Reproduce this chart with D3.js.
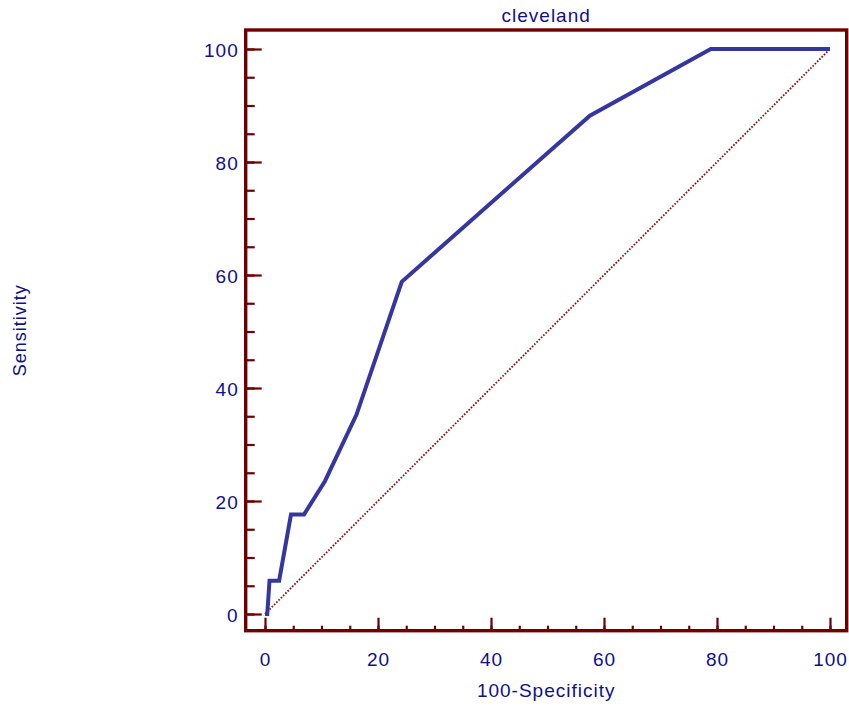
<!DOCTYPE html>
<html>
<head>
<meta charset="utf-8">
<script src="https://cdn.jsdelivr.net/npm/d3@7"></script>
<style>
  body { margin: 0; background: #fff; }
  text { font-family: "Liberation Sans", Arial, sans-serif; }
</style>
</head>
<body>
<div id="chart"></div>
<script>
var title = "cleveland";
var xLabel = "100-Specificity";
var yLabel = "Sensitivity";
// roc points
var specComp = [0, 0.4, 0.8, 2.5, 4.6, 6.9, 10.6, 16.2, 24.2, 57.5, 78.9, 100];
var sensitivity = [0, 0, 5.9, 5.9, 17.6, 17.6, 23.5, 35.3, 58.8, 88.2, 100, 100];
var majorTicks = [0, 20, 40, 60, 80, 100];
var minorTicks = d3.range(0, 101, 5);

var width = 849, height = 710;
var frame = {left: 245.7, top: 30, right: 846.7, bottom: 630.7};
var textColor = "#10108a", axisColor = "#6e0000";
var fontSize = "19px", spacing = "1px";

var svg = d3.select("#chart").append("svg")
    .attr("width", width).attr("height", height);

var x = d3.scaleLinear().domain([0, 100]).range([265, 830]);
var y = d3.scaleLinear().domain([0, 100]).range([614, 49]);

// bottom ticks, pointing inward
svg.append("g")
    .attr("transform", "translate(0," + frame.bottom + ")")
    .call(d3.axisBottom(x).tickValues(minorTicks).tickSize(-5).tickFormat(""))
    .call(function (g) { g.select(".domain").remove(); });
var xa = svg.append("g")
    .attr("transform", "translate(0," + frame.bottom + ")")
    .call(d3.axisBottom(x).tickValues(majorTicks).tickSize(-13));
xa.select(".domain").remove();
xa.selectAll("text")
    .attr("y", 35).attr("dy", null)
    .style("font-size", fontSize).style("letter-spacing", spacing)
    .attr("fill", textColor);

// left ticks
svg.append("g")
    .attr("transform", "translate(" + frame.left + ",0)")
    .call(d3.axisLeft(y).tickValues(minorTicks).tickSize(-9).tickFormat(""))
    .call(function (g) { g.select(".domain").remove(); });
var ya = svg.append("g")
    .attr("transform", "translate(" + frame.left + ",0)")
    .call(d3.axisLeft(y).tickValues(majorTicks).tickSize(-16));
ya.select(".domain").remove();
ya.selectAll("text")
    .attr("x", -7).attr("dy", "0.38em")
    .style("font-size", fontSize).style("letter-spacing", spacing)
    .attr("fill", textColor);

svg.selectAll(".tick line")
    .attr("stroke", axisColor).attr("stroke-width", 2.2);

// diagonal reference
svg.append("line")
    .attr("x1", x(0)).attr("y1", y(0))
    .attr("x2", x(100)).attr("y2", y(100))
    .attr("stroke", "#8b0a0a")
    .attr("stroke-width", 1.8)
    .attr("stroke-dasharray", "1.6,1.6");

var line = d3.line()
    .x(function (d, i) { return x(specComp[i]); })
    .y(function (d, i) { return y(sensitivity[i]); });

svg.append("path")
    .datum(sensitivity)
    .attr("d", line)
    .attr("fill", "none")
    .attr("stroke", "#3636a0")
    .attr("stroke-width", 4)
    .attr("stroke-linejoin", "miter");

svg.append("rect")
    .attr("x", frame.left).attr("y", frame.top)
    .attr("width", frame.right - frame.left)
    .attr("height", frame.bottom - frame.top)
    .attr("fill", "none")
    .attr("stroke", axisColor)
    .attr("stroke-width", 3.4);

svg.append("text")
    .attr("x", (frame.left + frame.right) / 2).attr("y", 22)
    .attr("text-anchor", "middle")
    .style("font-size", fontSize).style("letter-spacing", spacing)
    .attr("fill", textColor)
    .text(title);

svg.append("text")
    .attr("x", (frame.left + frame.right) / 2).attr("y", 697)
    .attr("text-anchor", "middle")
    .style("font-size", fontSize).style("letter-spacing", spacing)
    .attr("fill", textColor)
    .text(xLabel);

svg.append("text")
    .attr("transform", "translate(26," + ((frame.top + frame.bottom) / 2) + ") rotate(-90)")
    .attr("text-anchor", "middle")
    .style("font-size", "18px").style("letter-spacing", "1px")
    .attr("fill", textColor)
    .text(yLabel);
</script>
</body>
</html>
